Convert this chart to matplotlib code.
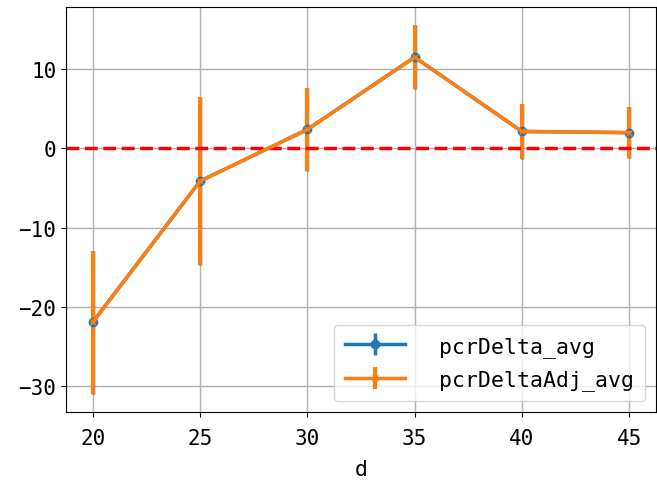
import matplotlib
matplotlib.use("Agg")
import matplotlib.pyplot as plt

d = [20, 25, 30, 35, 40, 45]
pcrDelta_avg = [-21.9, -4.15, 2.35, 11.45, 2.1, 1.95]
pcrDelta_err = [9.0, 10.55, 5.2, 4.0, 3.45, 3.2]
pcrDeltaAdj_avg = [-21.9, -4.15, 2.35, 11.45, 2.1, 1.95]
pcrDeltaAdj_err = [9.0, 10.55, 5.2, 4.0, 3.45, 3.2]

plt.rcParams['font.family'] = ['DejaVu Sans Mono']
plt.rcParams['font.size'] = 15.5

fig = plt.figure(figsize=(6.57, 4.85), dpi=100)
ax = fig.add_axes([66/657, 1 - 413/485, (656-66)/657, (413-8)/485])

ax.errorbar(d, pcrDelta_avg, yerr=pcrDelta_err, marker='o', color='#1f77b4',
            lw=2.5, elinewidth=2.5, markersize=6, label='pcrDelta_avg')
ax.errorbar(d, pcrDeltaAdj_avg, yerr=pcrDeltaAdj_err, marker='x', color='#ff7f0e',
            lw=2.5, elinewidth=3, markersize=5, label='pcrDeltaAdj_avg')
ax.axhline(0, color='red', linestyle='--', lw=2.5)
ax.grid(True, color='#b0b0b0', lw=1)
ax.set_axisbelow(True)
ax.tick_params(labelsize=15)
ax.tick_params(axis='x', pad=8)
ax.set_xlabel('d', labelpad=8)
ax.legend(loc='lower right', handletextpad=1.6, handlelength=2.8, fontsize=15.5,
          borderpad=0.5, labelspacing=0.6)
fig.savefig('out.png', dpi=100)
